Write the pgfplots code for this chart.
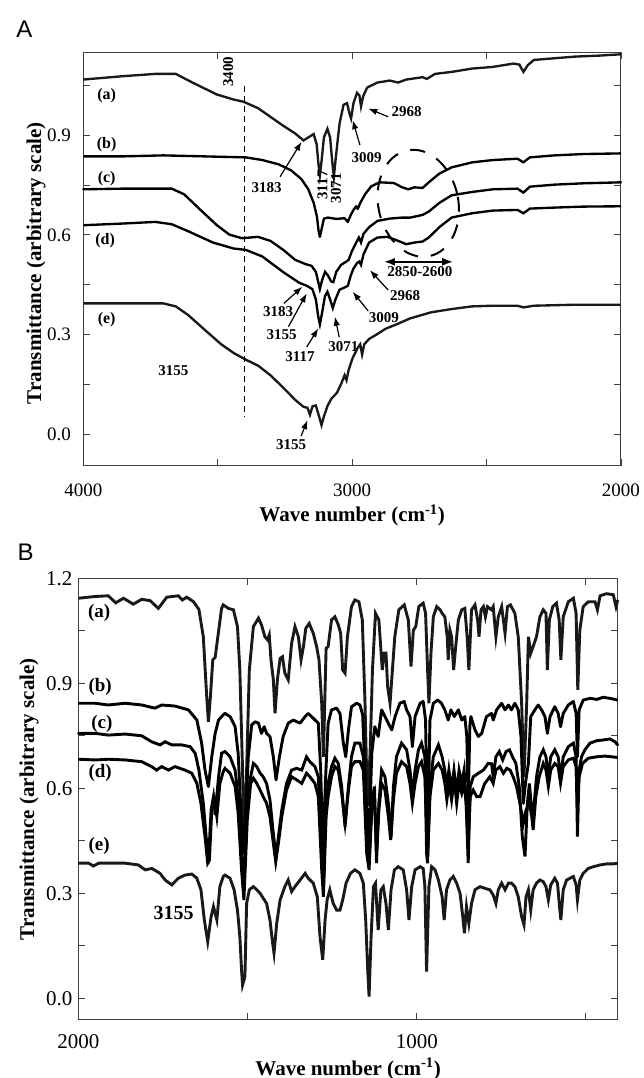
\documentclass[border=0pt]{standalone}
\usepackage{fontspec}
\setmainfont{Liberation Serif}
\newfontfamily\panelfont{Liberation Sans}
\usepackage{pgfplots}
\pgfplotsset{compat=1.18}
\usetikzlibrary{arrows.meta,shapes.geometric}

\newcommand{\annA}{\bfseries\fontsize{15}{15}\selectfont}
\newcommand{\labA}{\bfseries\fontsize{16}{16}\selectfont}
\newcommand{\labB}{\bfseries\fontsize{19}{19}\selectfont}
\newcommand{\axlab}{\bfseries\fontsize{21}{21}\selectfont}

\tikzset{arr/.style={-{Latex[length=9pt,width=6.5pt]}, line width=1.2pt}}
\pgfplotsset{
  irstyle/.style={
    scale only axis, enlargelimits=false, clip=false,
    x dir=reverse,
    axis line style={line width=1pt, black!75},
    tick style={line width=0.9pt, black!75},
    tick align=inside, xtick pos=both, ytick pos=both,
    xticklabel pos=lower, yticklabel pos=left,
    major tick length=7pt, minor tick length=7pt,
    /pgf/number format/assume math mode=true,
    xticklabel style={/pgf/number format/1000 sep={}, anchor=center, inner sep=0pt},
    yticklabel style={/pgf/number format/fixed, /pgf/number format/fixed zerofill,
      /pgf/number format/precision=1, anchor=east, inner sep=0pt},
    cycle list={{black!90, line join=round, line cap=round, mark=none}},
  },
}

\begin{document}
\begin{tikzpicture}
\useasboundingbox (0pt,0pt) rectangle (644pt,1078pt);
\node[font=\panelfont\fontsize{24}{24}\selectfont] at (24.5pt,1048.5pt) {A};
\node[font=\panelfont\fontsize{24}{24}\selectfont] at (25.7pt,526pt) {B};

% ---------------- Panel A ----------------
\begin{axis}[irstyle, at={(83.3pt,612.3pt)}, anchor=south west,
  width=537.7pt, height=413.4pt,
  xmin=2000, xmax=4000, ymin=-0.094, ymax=1.149,
  xtick={2000,3000,4000}, minor xtick={2500,3500},
  ytick={0,0.3,0.6,0.9}, minor ytick={0.15,0.45,0.75,1.05},
  tick label style={font=\fontsize{19}{19}\selectfont},
  xticklabel style={yshift=-24.3pt}, yticklabel style={xshift=-12.3pt},
  every axis plot/.append style={line width=2.35pt}]
% (a)
\addplot coordinates {(4000,1.067)(3855,1.077)(3732,1.084)(3656,1.084)(3594,1.058)(3503,1.022)(3441,1.007)(3403,1.000)(3350,0.981)(3304,0.955)(3258,0.929)(3212,0.905)(3181,0.884)(3163,0.893)(3143,0.903)(3132,0.872)(3125,0.810)(3120,0.779)(3114,0.820)(3105,0.893)(3092,0.919)(3082,0.893)(3074,0.820)(3068,0.774)(3061,0.831)(3047,0.934)(3032,0.991)(3019,0.996)(3010,0.965)(3004,0.950)(2995,0.996)(2982,1.027)(2973,1.019)(2967,0.986)(2959,1.017)(2944,1.043)(2906,1.058)(2860,1.064)(2829,1.058)(2799,1.067)(2738,1.074)(2722,1.069)(2692,1.084)(2630,1.090)(2554,1.100)(2477,1.105)(2401,1.115)(2378,1.112)(2363,1.090)(2347,1.110)(2324,1.126)(2248,1.131)(2171,1.136)(2080,1.139)(2000,1.143)};
% (b)
\addplot coordinates {(4000,0.836)(3855,0.836)(3702,0.839)(3549,0.836)(3396,0.833)(3334,0.825)(3273,0.812)(3227,0.794)(3189,0.768)(3163,0.737)(3143,0.696)(3131,0.655)(3125,0.613)(3120,0.594)(3112,0.623)(3105,0.649)(3090,0.652)(3059,0.648)(3028,0.650)(3016,0.639)(3005,0.660)(2995,0.675)(2985,0.686)(2979,0.678)(2970,0.696)(2952,0.722)(2929,0.746)(2898,0.758)(2845,0.756)(2814,0.743)(2791,0.737)(2768,0.743)(2738,0.741)(2715,0.758)(2676,0.784)(2630,0.803)(2554,0.818)(2477,0.825)(2385,0.829)(2363,0.818)(2339,0.833)(2248,0.839)(2141,0.843)(2000,0.845)};
% (c)
\addplot coordinates {(4000,0.737)(3855,0.739)(3671,0.739)(3625,0.722)(3564,0.675)(3503,0.629)(3457,0.601)(3411,0.590)(3350,0.594)(3304,0.582)(3258,0.556)(3212,0.525)(3173,0.512)(3151,0.507)(3135,0.489)(3126,0.458)(3120,0.437)(3112,0.463)(3101,0.489)(3090,0.478)(3078,0.460)(3070,0.458)(3059,0.489)(3041,0.510)(3021,0.520)(3013,0.525)(3001,0.551)(2985,0.577)(2975,0.592)(2967,0.577)(2958,0.603)(2937,0.623)(2906,0.642)(2860,0.649)(2814,0.652)(2784,0.652)(2738,0.660)(2715,0.670)(2676,0.696)(2630,0.719)(2554,0.729)(2477,0.737)(2385,0.739)(2363,0.727)(2339,0.745)(2248,0.751)(2141,0.755)(2000,0.758)};
% (d)
\addplot coordinates {(4000,0.629)(3855,0.634)(3732,0.639)(3671,0.632)(3610,0.611)(3518,0.577)(3441,0.559)(3396,0.555)(3334,0.535)(3258,0.489)(3197,0.456)(3169,0.447)(3148,0.437)(3135,0.406)(3126,0.354)(3120,0.331)(3112,0.365)(3101,0.416)(3092,0.429)(3082,0.406)(3072,0.380)(3062,0.406)(3047,0.435)(3028,0.442)(3016,0.447)(3005,0.478)(2995,0.499)(2982,0.515)(2973,0.520)(2967,0.510)(2958,0.541)(2937,0.577)(2906,0.592)(2868,0.594)(2829,0.582)(2799,0.572)(2768,0.577)(2738,0.580)(2715,0.592)(2676,0.623)(2630,0.652)(2554,0.665)(2477,0.673)(2385,0.675)(2363,0.665)(2339,0.679)(2248,0.682)(2141,0.685)(2000,0.686)};
% (e)
\addplot coordinates {(4000,0.394)(3855,0.394)(3702,0.394)(3656,0.385)(3610,0.359)(3549,0.315)(3487,0.271)(3441,0.245)(3396,0.225)(3350,0.207)(3304,0.178)(3258,0.142)(3212,0.104)(3181,0.083)(3166,0.080)(3157,0.059)(3147,0.085)(3135,0.087)(3123,0.054)(3114,0.028)(3105,0.054)(3092,0.085)(3077,0.108)(3067,0.116)(3056,0.126)(3041,0.152)(3028,0.178)(3021,0.163)(3013,0.194)(2998,0.230)(2979,0.261)(2970,0.271)(2963,0.240)(2955,0.271)(2937,0.287)(2906,0.302)(2875,0.318)(2829,0.333)(2784,0.349)(2707,0.367)(2630,0.377)(2554,0.385)(2477,0.387)(2385,0.387)(2363,0.382)(2324,0.387)(2171,0.390)(2000,0.390)};

% dashed 3400 line
\draw[line width=1.2pt, dash pattern=on 6pt off 4pt] (axis cs:3400,1.048) -- (axis cs:3400,0.053);
\node[rotate=90, font=\annA] at (axis cs:3461,1.09) {3400};
% ellipse
\node[draw, ellipse, line width=2pt, dash pattern=on 15pt off 13pt, minimum width=80pt, minimum height=108pt, rotate=12, inner sep=0pt] at (axis cs:2754,0.695) {};
\draw[{Latex[length=11pt,width=8pt]}-{Latex[length=11pt,width=8pt]}, line width=2pt] (axis cs:2882,0.519) -- (axis cs:2624,0.519);
\node[font=\annA] at (axis cs:2748,0.489) {2850-2600};

% curve labels
\node[font=\labA] at (axis cs:3913,1.02) {(a)};
\node[font=\labA] at (axis cs:3913,0.872) {(b)};
\node[font=\labA] at (axis cs:3913,0.77) {(c)};
\node[font=\labA] at (axis cs:3919,0.584) {(d)};
\node[font=\labA] at (axis cs:3913,0.344) {(e)};
\node[font=\annA] at (axis cs:3665,0.193) {3155};

% upper annotations
\node[font=\annA] at (axis cs:3318,0.743) {3183};
\draw[arr] (axis cs:3268,0.775) -- (axis cs:3188,0.88);
\node[rotate=90, font=\annA] at (axis cs:3110,0.75) {3117};
\node[rotate=90, font=\annA] at (axis cs:3060,0.74) {3071};
\node[font=\annA] at (axis cs:2946,0.833) {3009};
\draw[arr] (axis cs:2971,0.87) -- (axis cs:2998,0.945);
\node[font=\annA] at (axis cs:2797,0.972) {2968};
\draw[arr] (axis cs:2866,0.955) -- (axis cs:2940,0.98);

% lower annotations
\node[font=\annA] at (axis cs:3275,0.369) {3183};
\draw[arr] (axis cs:3254,0.394) -- (axis cs:3185,0.444);
\node[font=\annA] at (axis cs:3262,0.300) {3155};
\draw[arr] (axis cs:3237,0.324) -- (axis cs:3169,0.424);
\node[font=\annA] at (axis cs:3194,0.233) {3117};
\draw[arr] (axis cs:3169,0.263) -- (axis cs:3126,0.319);
\node[font=\annA] at (axis cs:3033,0.265) {3071};
\draw[arr] (axis cs:3048,0.292) -- (axis cs:3064,0.354);
\node[font=\annA] at (axis cs:2882,0.351) {3009};
\draw[arr] (axis cs:2940,0.371) -- (axis cs:2998,0.429);
\node[font=\annA] at (axis cs:2803,0.417) {2968};
\draw[arr] (axis cs:2866,0.434) -- (axis cs:2934,0.494);
\node[font=\annA] at (axis cs:3227,-0.032) {3155};
\draw[arr] (axis cs:3190,-0.005) -- (axis cs:3166,0.043);

\node[font=\axlab] at ([yshift=-49.8pt]axis description cs:0.5,0) {Wave number (cm\textsuperscript{-1})};
\node[rotate=90, font=\axlab] at ([xshift=-47.3pt]axis description cs:0,0.49) {Transmittance (arbitrary scale)};
\end{axis}

% ---------------- Panel B ----------------
\begin{axis}[irstyle, at={(78.5pt,58pt)}, anchor=south west,
  width=539.2pt, height=441.7pt,
  xmin=406, xmax=2000, ymin=-0.062, ymax=1.2,
  xtick={1000,2000}, minor xtick={500,1500},
  ytick={0,0.3,0.6,0.9,1.2}, minor ytick={0.15,0.45,0.75,1.05},
  tick label style={font=\fontsize{21}{21}\selectfont},
  xticklabel style={yshift=-21.7pt}, yticklabel style={xshift=-6pt},
  every axis plot/.append style={line width=2.9pt}]
% (a)
\addplot coordinates {(2000,1.143)(1951,1.148)(1912,1.150)(1890,1.130)(1867,1.143)(1838,1.126)(1813,1.140)(1788,1.136)(1764,1.114)(1739,1.146)(1705,1.150)(1693,1.138)(1680,1.146)(1660,1.133)(1644,1.111)(1631,1.033)(1621,0.862)(1616,0.790)(1610,0.862)(1603,0.967)(1596,0.974)(1588,1.033)(1577,1.114)(1572,1.124)(1557,1.114)(1542,1.110)(1530,1.062)(1523,0.938)(1515,0.652)(1510,0.414)(1503,0.652)(1495,0.938)(1483,1.062)(1468,1.086)(1459,1.067)(1449,1.033)(1441,1.024)(1436,1.038)(1431,0.967)(1424,0.910)(1419,0.814)(1412,0.910)(1404,0.971)(1397,0.976)(1390,0.929)(1380,0.910)(1370,1.014)(1360,1.062)(1350,1.033)(1342,0.967)(1335,1.005)(1328,1.057)(1318,1.071)(1306,1.043)(1296,1.005)(1289,0.967)(1281,0.843)(1276,0.690)(1268,1.000)(1262,1.005)(1252,1.081)(1242,1.090)(1232,1.067)(1225,1.043)(1219,0.938)(1212,0.929)(1205,1.033)(1193,1.119)(1183,1.138)(1171,1.133)(1161,1.081)(1153,0.843)(1146,0.550)(1138,0.700)(1131,0.938)(1122,1.100)(1112,1.081)(1102,0.938)(1096,0.986)(1091,0.986)(1086,0.890)(1079,0.843)(1072,0.938)(1065,1.033)(1053,1.110)(1037,1.124)(1025,1.081)(1017,0.948)(1010,1.052)(1003,1.062)(994,1.119)(981,1.129)(974,1.100)(968,0.938)(964,0.843)(958,0.986)(951,1.090)(941,1.119)(931,1.110)(925,1.100)(917,1.090)(910,1.033)(907,0.967)(902,1.052)(897,1.033)(891,0.938)(884,1.014)(877,1.081)(867,1.110)(858,1.114)(851,1.033)(846,0.938)(838,1.110)(828,1.124)(820,1.081)(816,1.033)(810,1.110)(803,1.119)(797,1.090)(791,1.119)(779,1.110)(774,1.119)(766,1.033)(759,1.090)(749,1.119)(739,1.043)(732,1.119)(723,1.124)(710,1.100)(700,1.033)(690,0.843)(683,0.633)(675,0.843)(670,1.033)(663,0.986)(656,1.005)(646,1.033)(636,1.090)(626,1.110)(618,1.100)(614,0.938)(608,1.081)(598,1.119)(587,1.129)(579,1.081)(574,0.967)(567,1.090)(552,1.133)(537,1.143)(529,1.100)(524,0.881)(518,1.052)(508,1.119)(493,1.133)(473,1.133)(466,1.110)(458,1.150)(439,1.156)(419,1.153)(411,1.119)(406,1.138)};
% (b)
\addplot coordinates {(2000,0.843)(1951,0.843)(1912,0.838)(1862,0.843)(1813,0.838)(1774,0.829)(1754,0.838)(1715,0.835)(1675,0.824)(1650,0.795)(1636,0.729)(1626,0.652)(1616,0.605)(1606,0.690)(1596,0.757)(1586,0.795)(1572,0.810)(1567,0.814)(1552,0.805)(1537,0.776)(1528,0.700)(1521,0.557)(1513,0.414)(1506,0.520)(1498,0.690)(1488,0.781)(1478,0.790)(1468,0.786)(1459,0.757)(1451,0.776)(1444,0.757)(1434,0.748)(1424,0.690)(1416,0.624)(1406,0.690)(1395,0.748)(1380,0.786)(1365,0.795)(1345,0.786)(1330,0.805)(1321,0.814)(1306,0.800)(1291,0.786)(1284,0.652)(1277,0.400)(1270,0.620)(1262,0.786)(1252,0.824)(1237,0.829)(1227,0.814)(1217,0.729)(1210,0.690)(1202,0.767)(1193,0.833)(1178,0.843)(1168,0.838)(1160,0.810)(1153,0.652)(1145,0.460)(1138,0.550)(1133,0.700)(1124,0.776)(1114,0.748)(1104,0.824)(1089,0.795)(1074,0.767)(1064,0.805)(1050,0.843)(1037,0.848)(1030,0.824)(1020,0.805)(1013,0.719)(1005,0.805)(990,0.843)(981,0.848)(974,0.795)(968,0.450)(961,0.795)(951,0.843)(938,0.852)(927,0.843)(917,0.824)(907,0.795)(899,0.824)(889,0.805)(877,0.824)(867,0.795)(858,0.805)(852,0.748)(848,0.550)(843,0.780)(840,0.805)(828,0.767)(818,0.748)(808,0.757)(794,0.805)(779,0.814)(774,0.795)(764,0.824)(749,0.843)(739,0.824)(729,0.838)(720,0.824)(710,0.843)(700,0.824)(692,0.748)(685,0.557)(678,0.620)(670,0.671)(663,0.805)(651,0.824)(641,0.838)(631,0.824)(621,0.805)(614,0.757)(606,0.805)(592,0.833)(582,0.814)(575,0.776)(567,0.814)(552,0.838)(537,0.848)(529,0.814)(525,0.690)(520,0.824)(508,0.852)(488,0.857)(468,0.854)(449,0.860)(429,0.857)(406,0.852)};
% (c)
\addplot coordinates {(2000,0.757)(1951,0.757)(1912,0.752)(1862,0.755)(1813,0.750)(1784,0.733)(1759,0.724)(1744,0.733)(1724,0.724)(1695,0.724)(1670,0.719)(1655,0.700)(1644,0.652)(1631,0.557)(1621,0.443)(1616,0.386)(1608,0.538)(1601,0.576)(1596,0.524)(1586,0.633)(1577,0.700)(1567,0.705)(1552,0.690)(1537,0.652)(1528,0.576)(1518,0.414)(1511,0.319)(1501,0.557)(1493,0.624)(1483,0.671)(1473,0.662)(1463,0.643)(1454,0.633)(1444,0.614)(1434,0.567)(1424,0.471)(1416,0.405)(1409,0.462)(1399,0.538)(1385,0.614)(1370,0.652)(1355,0.657)(1340,0.652)(1326,0.690)(1316,0.676)(1301,0.662)(1291,0.633)(1281,0.414)(1276,0.319)(1268,0.557)(1262,0.614)(1252,0.662)(1242,0.686)(1232,0.671)(1222,0.605)(1212,0.490)(1202,0.605)(1193,0.690)(1183,0.729)(1168,0.729)(1158,0.690)(1148,0.462)(1141,0.386)(1133,0.557)(1125,0.605)(1119,0.386)(1112,0.557)(1104,0.652)(1094,0.633)(1084,0.557)(1076,0.462)(1069,0.605)(1060,0.690)(1045,0.729)(1030,0.710)(1020,0.652)(1013,0.576)(1005,0.652)(995,0.710)(986,0.729)(976,0.690)(971,0.414)(968,0.386)(961,0.605)(951,0.690)(936,0.724)(925,0.690)(917,0.652)(912,0.595)(905,0.652)(897,0.595)(890,0.652)(882,0.586)(875,0.652)(867,0.614)(860,0.652)(854,0.557)(848,0.386)(842,0.605)(833,0.633)(818,0.643)(803,0.652)(789,0.671)(779,0.670)(774,0.633)(766,0.690)(756,0.705)(746,0.681)(736,0.705)(726,0.710)(717,0.690)(707,0.671)(697,0.605)(688,0.462)(680,0.405)(673,0.557)(667,0.614)(662,0.557)(656,0.520)(646,0.633)(636,0.690)(626,0.710)(618,0.690)(611,0.633)(604,0.690)(592,0.710)(582,0.690)(575,0.633)(567,0.690)(552,0.719)(537,0.729)(529,0.690)(525,0.462)(520,0.652)(513,0.690)(503,0.710)(488,0.729)(468,0.736)(449,0.738)(429,0.741)(414,0.733)(406,0.724)};
% (d)
\addplot coordinates {(2000,0.683)(1951,0.681)(1912,0.683)(1862,0.681)(1813,0.676)(1784,0.662)(1769,0.652)(1754,0.662)(1734,0.652)(1715,0.662)(1685,0.652)(1665,0.643)(1650,0.614)(1638,0.557)(1626,0.462)(1618,0.386)(1613,0.395)(1606,0.538)(1598,0.567)(1591,0.519)(1582,0.614)(1572,0.648)(1567,0.657)(1552,0.643)(1537,0.605)(1528,0.529)(1518,0.367)(1511,0.281)(1501,0.510)(1491,0.614)(1483,0.629)(1473,0.614)(1463,0.595)(1454,0.576)(1444,0.557)(1434,0.519)(1424,0.443)(1417,0.390)(1409,0.443)(1399,0.519)(1385,0.595)(1370,0.633)(1355,0.624)(1340,0.614)(1326,0.643)(1316,0.633)(1301,0.614)(1291,0.576)(1281,0.367)(1276,0.290)(1268,0.519)(1262,0.576)(1252,0.633)(1242,0.662)(1232,0.652)(1222,0.586)(1212,0.500)(1202,0.595)(1193,0.662)(1183,0.676)(1168,0.676)(1158,0.652)(1148,0.414)(1141,0.367)(1133,0.538)(1125,0.576)(1119,0.414)(1112,0.538)(1104,0.614)(1094,0.595)(1084,0.519)(1077,0.452)(1069,0.567)(1060,0.643)(1045,0.676)(1030,0.662)(1020,0.614)(1013,0.557)(1005,0.614)(995,0.662)(986,0.676)(976,0.633)(968,0.405)(961,0.576)(951,0.652)(936,0.671)(925,0.652)(917,0.614)(911,0.567)(904,0.614)(897,0.567)(889,0.624)(882,0.557)(875,0.614)(867,0.586)(860,0.614)(854,0.557)(848,0.443)(842,0.576)(833,0.595)(823,0.576)(813,0.576)(799,0.614)(784,0.633)(774,0.614)(766,0.652)(754,0.662)(744,0.643)(734,0.657)(724,0.652)(715,0.633)(705,0.605)(695,0.557)(685,0.500)(677,0.538)(667,0.557)(660,0.519)(656,0.481)(648,0.576)(638,0.633)(626,0.671)(618,0.652)(611,0.605)(604,0.652)(592,0.671)(582,0.662)(575,0.614)(567,0.662)(552,0.681)(537,0.686)(529,0.662)(525,0.557)(520,0.633)(510,0.671)(493,0.686)(468,0.690)(444,0.692)(424,0.690)(406,0.688)};
% (e)
\addplot coordinates {(2000,0.386)(1970,0.386)(1956,0.378)(1940,0.386)(1862,0.386)(1823,0.381)(1803,0.367)(1783,0.371)(1759,0.357)(1744,0.338)(1724,0.324)(1705,0.343)(1685,0.352)(1665,0.355)(1650,0.343)(1638,0.310)(1628,0.224)(1618,0.162)(1608,0.233)(1601,0.262)(1591,0.224)(1582,0.319)(1572,0.348)(1567,0.352)(1552,0.343)(1540,0.310)(1530,0.252)(1523,0.176)(1518,0.081)(1515,0.038)(1508,0.062)(1503,0.271)(1495,0.310)(1483,0.319)(1473,0.310)(1463,0.300)(1454,0.286)(1444,0.271)(1434,0.224)(1426,0.157)(1422,0.129)(1414,0.214)(1404,0.281)(1390,0.319)(1380,0.338)(1370,0.305)(1360,0.319)(1345,0.338)(1330,0.357)(1321,0.343)(1306,0.329)(1294,0.290)(1286,0.176)(1278,0.110)(1271,0.224)(1265,0.281)(1257,0.310)(1247,0.271)(1237,0.252)(1227,0.252)(1219,0.281)(1209,0.329)(1196,0.357)(1183,0.367)(1168,0.357)(1158,0.329)(1151,0.224)(1145,0.081)(1141,0.005)(1135,0.176)(1128,0.319)(1122,0.329)(1114,0.195)(1106,0.310)(1099,0.319)(1091,0.271)(1084,0.195)(1076,0.310)(1066,0.367)(1055,0.376)(1040,0.367)(1030,0.310)(1023,0.224)(1015,0.319)(1005,0.367)(990,0.376)(981,0.371)(976,0.319)(971,0.076)(964,0.319)(956,0.376)(946,0.367)(936,0.338)(925,0.290)(919,0.224)(912,0.310)(902,0.338)(892,0.348)(882,0.329)(872,0.300)(864,0.233)(859,0.186)(853,0.262)(846,0.214)(838,0.271)(828,0.310)(813,0.319)(798,0.314)(784,0.310)(774,0.295)(766,0.271)(759,0.310)(749,0.329)(739,0.310)(729,0.329)(720,0.329)(710,0.319)(700,0.290)(690,0.233)(683,0.210)(677,0.290)(670,0.310)(663,0.252)(656,0.310)(646,0.329)(636,0.338)(626,0.333)(618,0.319)(611,0.281)(604,0.324)(592,0.343)(584,0.329)(577,0.252)(574,0.224)(567,0.310)(557,0.338)(547,0.343)(537,0.348)(529,0.324)(525,0.281)(518,0.338)(508,0.357)(493,0.371)(478,0.376)(458,0.381)(439,0.384)(419,0.384)(406,0.386)};

\node[font=\labB] at (axis cs:1939,1.100) {(a)};
\node[font=\labB] at (axis cs:1936,0.889) {(b)};
\node[font=\labB] at (axis cs:1931,0.784) {(c)};
\node[font=\labB] at (axis cs:1936,0.643) {(d)};
\node[font=\labB] at (axis cs:1939,0.435) {(e)};
\node[font=\bfseries\fontsize{20}{20}\selectfont] at (axis cs:1719,0.243) {3155};

\node[font=\axlab] at ([yshift=-49pt]axis description cs:0.5,0) {Wave number (cm\textsuperscript{-1})};
\node[rotate=90, font=\axlab] at ([xshift=-49.5pt]axis description cs:0,0.5) {Transmittance (arbitrary scale)};
\end{axis}
\end{tikzpicture}
\end{document}
